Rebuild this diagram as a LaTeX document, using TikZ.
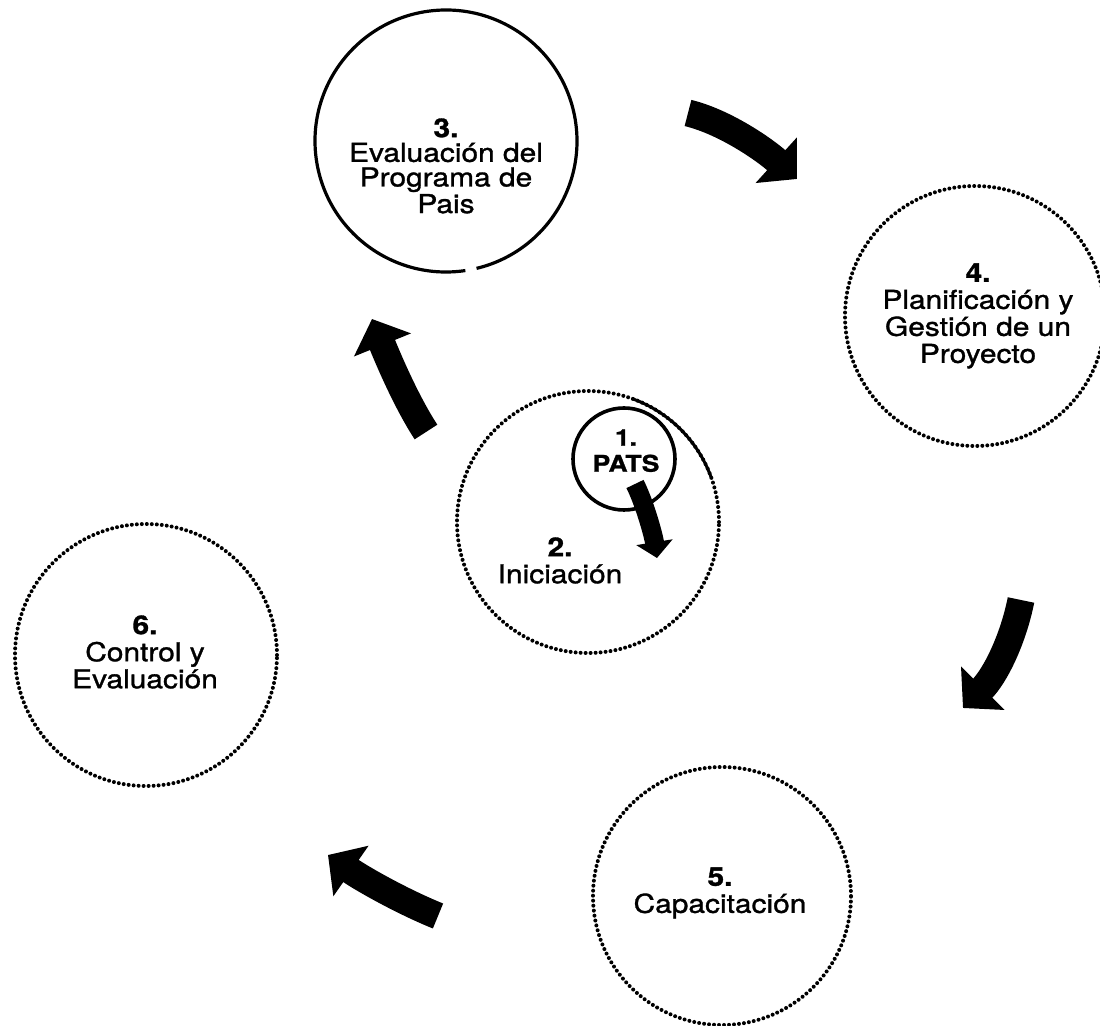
\documentclass[tikz,border=0pt]{standalone}
\usepackage{fontspec}
\setmainfont{TeX Gyre Heros}[FakeStretch=1.15,FakeBold=1.2]
\usetikzlibrary{arrows.meta}
\begin{document}
\begin{tikzpicture}[x=0.5pt,y=-0.5pt,
  ring/.style={circle,draw,line width=1.8pt,inner sep=0pt},
  dotring/.style={circle,draw,line width=2pt,dash pattern=on 0pt off 2.5pt,line cap=round,inner sep=0pt},
  lbl/.style={align=center,inner sep=0pt,anchor=north,font=\fontsize{13}{13.5}\selectfont},
  bigarrow/.style={line width=13.5pt,line cap=butt,-{Triangle[length=14pt,width=30pt]}},
  smallarrow/.style={line width=9.5pt,line cap=butt,-{Triangle[length=8pt,width=18pt]}}
]
\fill[white] (0,0) rectangle (1100,1026);
\useasboundingbox (0,0) rectangle (1100,1026);

% circles
\node[circle,inner sep=0pt,minimum size=131pt] (c3) at (446,141) {};
\draw[line width=1.6pt] ([shift={(81.5:131)}]c3.center) arc[start angle=81.5,end angle=436.5,radius=131];
\node[dotring,minimum size=130pt] (c4) at (975,316) {};
\node[dotring,minimum size=131pt] (c2) at (588,522) {};
\draw[line width=1.5pt] ([shift={(-70:131)}]c2.center) arc[start angle=-70,end angle=-20,radius=131];
\node[ring,minimum size=51pt] (c1) at (624,459) {};
\node[dotring,minimum size=131pt] (c6) at (146,655) {};
\node[dotring,minimum size=129pt] (c5) at (722,896) {};

% labels
\node[lbl,font=\fontsize{13}{12.3}\selectfont] (t3) at (446,118) {\textbf{3.}\\Evaluación del\\Programa de\\Pais};
\node[lbl] (t4) at (978,263) {\textbf{4.}\\Planificación y\\Gestión de un\\Proyecto};
\node[lbl] (t2) at (560,537) {\textbf{2.}\\Iniciación};
\node[lbl,font=\fontsize{11.5}{13}\selectfont\bfseries] (t1) at (626,429) {1.\\PATS};
\node[lbl] (t6) at (145,615) {\textbf{6.}\\Control y\\Evaluación};
\node[lbl] (t5) at (720,867) {\textbf{5.}\\Capacitación};

% arrows
\coordinate (a12s) at (635,484); \coordinate (a12e) at (657,558);
\coordinate (a23s) at (426,432); \coordinate (a23e) at (372,319);
\coordinate (a34s) at (688,113); \coordinate (a34e) at (797,179);
\coordinate (a45s) at (1021,600); \coordinate (a45e) at (963,708);
\coordinate (a56s) at (438,916); \coordinate (a56e) at (328,855);

\draw[smallarrow] (a12s) .. controls (644,502) and (653,533) .. (a12e);
\draw[bigarrow] (a23s) .. controls (407,403) and (389,361) .. (a23e);
\draw[bigarrow] (a34s) .. controls (725,122) and (765,150) .. (a34e);
\draw[bigarrow] (a45s) .. controls (1013,640) and (995,676) .. (a45e);
\draw[bigarrow] (a56s) .. controls (401,901) and (361,878) .. (a56e);
\end{tikzpicture}
\end{document}
